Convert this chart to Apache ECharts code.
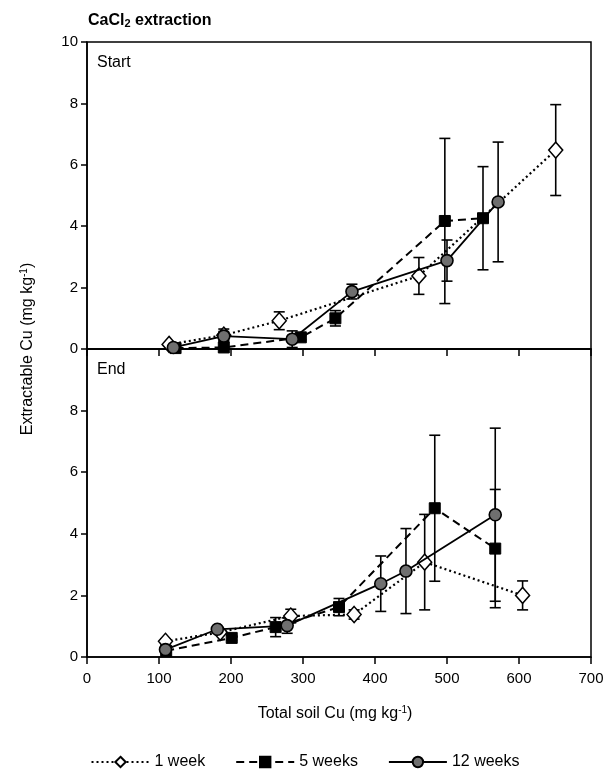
<!DOCTYPE html>
<html><head><meta charset="utf-8">
<script src="https://cdn.jsdelivr.net/npm/echarts@6/dist/echarts.min.js"></script>
<style>html,body{margin:0;padding:0;background:#fff}#c{width:610px;height:769px}</style>
</head><body><div id="c"></div>
<script>
const xTicks = [0,100,200,300,400,500,600,700];
const seriesNames = ['1 week','5 weeks','12 weeks'];

const startW1X = [114,190,267,461,651];
const startW1Y = [0.15,0.45,0.92,2.38,6.48];
const startW1Err = [0,0.2,0.29,0.6,1.48];
const startW5X = [123,190,297,345,497,550];
const startW5Y = [0.03,0.05,0.38,1.0,4.17,4.26];
const startW5Err = [0,0,0.08,0.25,2.69,1.68];
const startW12X = [120,190,285,368,500,571];
const startW12Y = [0.05,0.42,0.32,1.87,2.88,4.79];
const startW12Err = [0,0.15,0.27,0.24,0.67,1.95];

const endW1X = [109,185,283,371,469,605];
const endW1Y = [0.51,0.8,1.33,1.38,3.08,2.0];
const endW1Err = [0.08,0,0.22,0.15,1.55,0.47];
const endW5X = [110,201,262,350,483,567];
const endW5Y = [0.2,0.62,0.97,1.62,4.83,3.52];
const endW5Err = [0,0.08,0.31,0.28,2.37,1.92];
const endW12X = [109,181,278,408,443,567];
const endW12Y = [0.24,0.9,1.02,2.38,2.79,4.62];
const endW12Err = [0,0.05,0.25,0.9,1.38,2.81];

const FONT = '"Liberation Sans", Arial, Helvetica, sans-serif';
const chart = echarts.init(document.getElementById('c'));

const styles = [
  {symbol:'diamond', symbolSize:[14,16], itemStyle:{color:'#fff', borderColor:'#000', borderWidth:1.5}, lineStyle:{color:'#000', width:2.2, type:[2,3]}},
  {symbol:'rect', symbolSize:11, itemStyle:{color:'#000', borderColor:'#000', borderWidth:1}, lineStyle:{color:'#000', width:2, type:[8,5]}},
  {symbol:'circle', symbolSize:12, itemStyle:{color:'#6f6f6f', borderColor:'#000', borderWidth:1.6}, lineStyle:{color:'#000', width:1.8, type:'solid'}}
];

function zip(xs, ys){ return xs.map((x,i)=>[x, ys[i]]); }
function errData(xs, ys, es){ return xs.map((x,i)=>[x, ys[i]-es[i], ys[i]+es[i]]).filter((d,i)=>es[i]>0); }

function errSeries(idx, data){
  return {
    type:'custom', xAxisIndex:idx, yAxisIndex:idx, z:1, silent:true,
    renderItem:function(params, api){
      const x = api.value(0), lo = api.value(1), hi = api.value(2);
      const p1 = api.coord([x, lo]), p2 = api.coord([x, hi]);
      const w = 5.5;
      const st = {stroke:'#000', lineWidth:1.6};
      return {type:'group', children:[
        {type:'line', shape:{x1:p1[0], y1:p1[1], x2:p2[0], y2:p2[1]}, style:st},
        {type:'line', shape:{x1:p1[0]-w, y1:p1[1], x2:p1[0]+w, y2:p1[1]}, style:st},
        {type:'line', shape:{x1:p2[0]-w, y1:p2[1], x2:p2[0]+w, y2:p2[1]}, style:st}
      ]};
    },
    data:data
  };
}

const panels = [
  {xs:[startW1X,startW5X,startW12X], ys:[startW1Y,startW5Y,startW12Y], es:[startW1Err,startW5Err,startW12Err]},
  {xs:[endW1X,endW5X,endW12X], ys:[endW1Y,endW5Y,endW12Y], es:[endW1Err,endW5Err,endW12Err]}
];

const series = [];
panels.forEach((p, gi) => {
  for (let k=0;k<3;k++) series.push(errSeries(gi, errData(p.xs[k], p.ys[k], p.es[k])));
  for (let k=0;k<3;k++) {
    series.push(Object.assign({
      type:'line', name:seriesNames[k], xAxisIndex:gi, yAxisIndex:gi, z:3+k,
      data: zip(p.xs[k], p.ys[k]), showSymbol:true, animation:false
    }, JSON.parse(JSON.stringify(styles[k]))));
  }
});

function xAxis(gi){
  return {
    type:'value', gridIndex:gi, min:0, max:700, interval:100,
    axisLine:{show:true, onZero:false, lineStyle:{color:'#000', width:1.5}},
    axisTick:{show:true, inside:false, length:7, lineStyle:{color:'#000', width:1.5}},
    axisLabel:{show: gi===1, color:'#000', fontFamily:FONT, fontSize:15, margin:14},
    splitLine:{show:false}
  };
}
function yAxis(gi){
  return {
    type:'value', gridIndex:gi, min:0, max:10, interval:2,
    axisLine:{show:true, onZero:false, lineStyle:{color:'#000', width:1.5}},
    axisTick:{show:true, inside:false, length:6, lineStyle:{color:'#000', width:1.5}},
    axisLabel:{color:'#000', fontFamily:FONT, fontSize:15, margin:9,
      formatter: v => (gi===1 && v===10) ? '' : String(v)},
    splitLine:{show:false}
  };
}

chart.setOption({
  animation:false,
  backgroundColor:'#fff',
  grid:[
    {left:87, right:19, top:42, height:307, show:true, borderColor:'#000', borderWidth:1.5, backgroundColor:'transparent'},
    {left:87, right:19, top:349, height:308, show:true, borderColor:'#000', borderWidth:1.5, backgroundColor:'transparent'}
  ],
  xAxis:[xAxis(0), xAxis(1)],
  yAxis:[yAxis(0), yAxis(1)],
  legend:{
    data:seriesNames, top:749, left:'center', itemWidth:58, itemHeight:13, itemGap:30,
    textStyle:{color:'#000', fontFamily:FONT, fontSize:16}
  },
  graphic:[
    {type:'text', left:88, top:13, style:{
      text:'{b|CaCl}{s|2}{b| extraction}', fontFamily:FONT,
      rich:{b:{fontSize:16, fontWeight:'bold', fontFamily:FONT, fill:'#000'},
            s:{fontSize:11, fontWeight:'bold', fontFamily:FONT, fill:'#000', padding:[6,0,0,0]}}
    }},
    {type:'text', left:97, top:55, style:{text:'Start', fontFamily:FONT, fontSize:16, fill:'#000'}},
    {type:'text', left:97, top:362, style:{text:'End', fontFamily:FONT, fontSize:16, fill:'#000'}},
    {type:'text', x:335, y:714, style:{
      text:'{a|Total soil Cu (mg kg}{s|-1}{a|)}', align:'center', verticalAlign:'middle',
      rich:{a:{fontSize:16, fontFamily:FONT, fill:'#000'}, s:{fontSize:10, fontFamily:FONT, fill:'#000', padding:[0,0,8,0]}}
    }},
    {type:'text', x:28, y:349, rotation:Math.PI/2, style:{
      text:'{a|Extractable Cu (mg kg}{s|-1}{a|)}', align:'center', verticalAlign:'middle',
      rich:{a:{fontSize:16, fontFamily:FONT, fill:'#000'}, s:{fontSize:10, fontFamily:FONT, fill:'#000', padding:[0,0,8,0]}}
    }}
  ],
  series:series
});
</script>
</body></html>
